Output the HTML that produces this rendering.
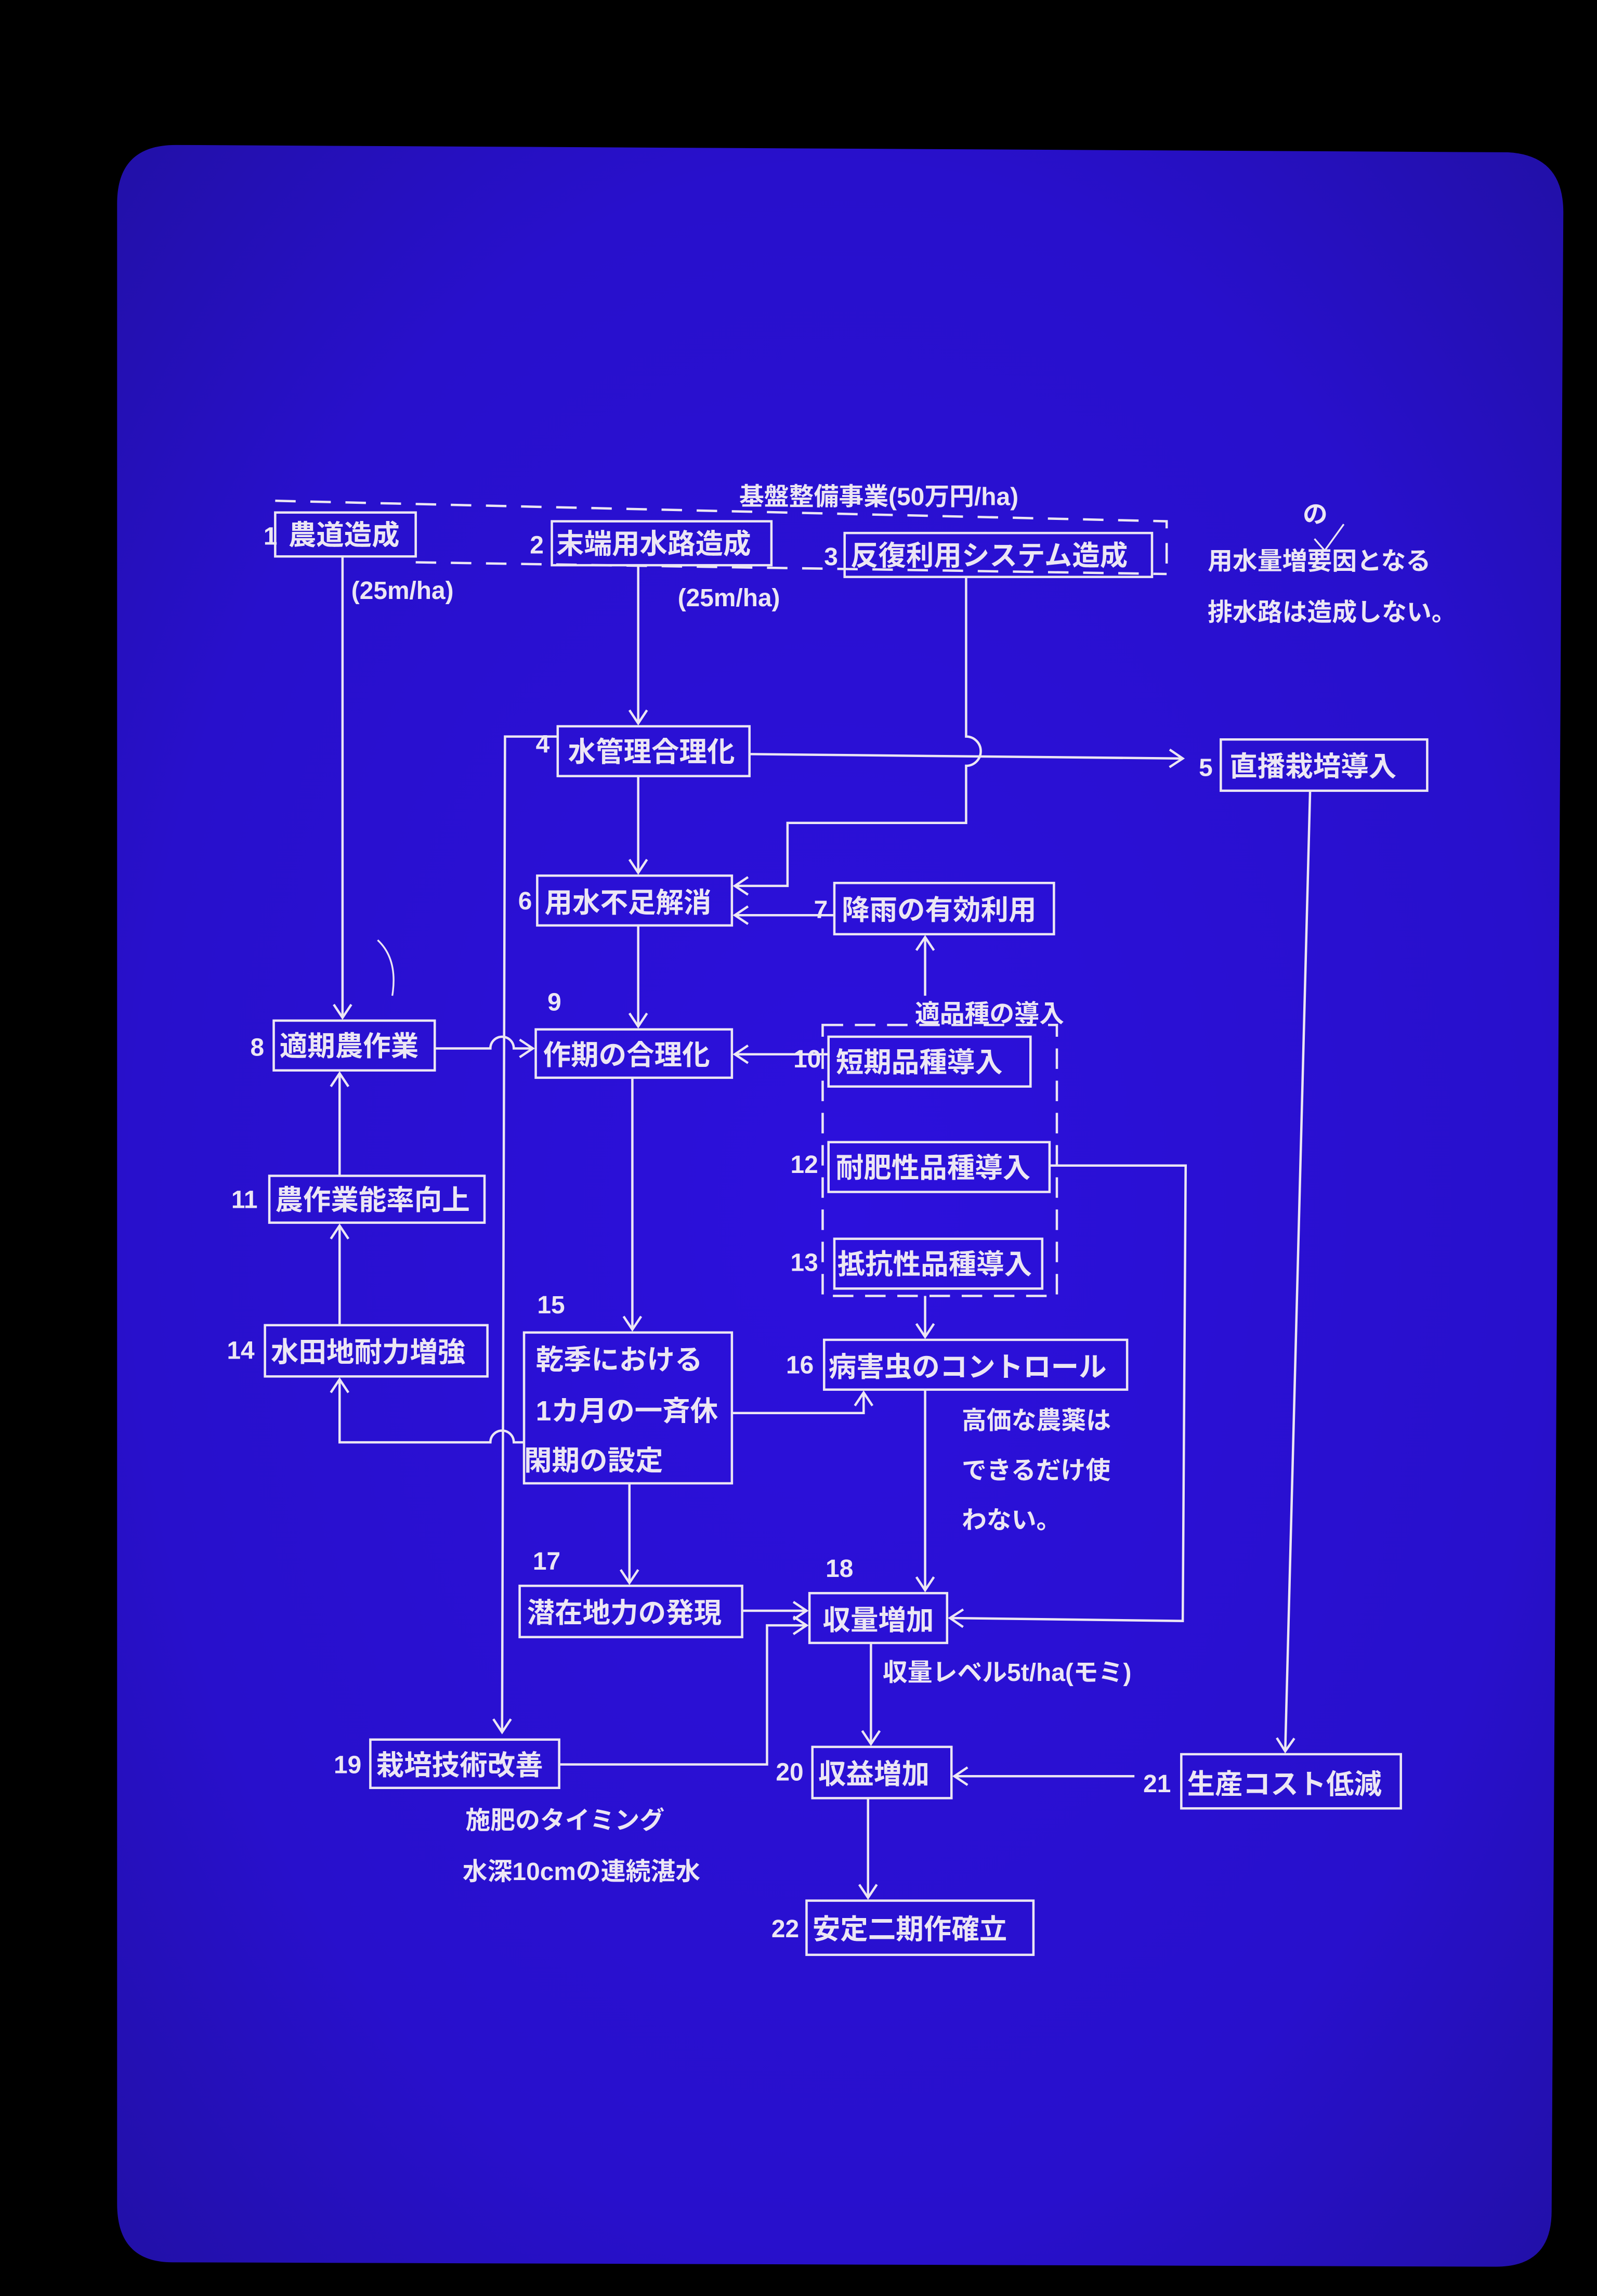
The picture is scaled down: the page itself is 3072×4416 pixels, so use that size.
<!DOCTYPE html>
<html><head><meta charset="utf-8">
<style>
html,body{margin:0;padding:0;background:#000;}
svg{display:block;}
text{font-family:"Liberation Sans","Noto Sans CJK JP",sans-serif;fill:#ece6f4;font-weight:bold;}
.n{font-weight:normal;font-size:17px;}
</style></head><body>
<svg width="3072" height="4416" viewBox="0 0 1091 1568" preserveAspectRatio="none" xmlns="http://www.w3.org/2000/svg">
<defs>
<radialGradient id="g" cx="0.5" cy="0.5" r="0.7">
<stop offset="0" stop-color="#2c10dc"/>
<stop offset="0.7" stop-color="#2810cc"/>
<stop offset="1" stop-color="#2210a8"/>
</radialGradient>
<marker id="a" markerWidth="16" markerHeight="16" refX="12" refY="8" orient="auto" markerUnits="userSpaceOnUse">
<path d="M3,2 L12,8 L3,14" fill="none" stroke="#ece6f4" stroke-width="1.6"/>
</marker>
</defs>
<rect width="1091" height="1568" fill="#000"/>
<path d="M120,99 L1030,104 Q1068,106 1068,145 L1060,1510 Q1060,1548 1022,1548 L118,1545 Q80,1545 80,1505 L80,139 Q80,99 120,99 Z" fill="url(#g)"/>
<g fill="none" stroke="#ece6f4" stroke-width="1.6">
<!-- dashed group -->
<path d="M188,342 L797,356 L797,386" stroke-dasharray="14,10"/>
<path d="M284,384 L797,392" stroke-dasharray="14,10"/>
<path d="M562,700 L722,700 L722,885 L562,885 Z" stroke-dasharray="14,8"/>
<!-- boxes -->
<rect x="188" y="350" width="96" height="30"/>
<rect x="377" y="356" width="150" height="30"/>
<rect x="577" y="364" width="210" height="30"/>
<rect x="381" y="496" width="131" height="34"/>
<rect x="834" y="505" width="141" height="35"/>
<rect x="367" y="598" width="133" height="34"/>
<rect x="570" y="603" width="150" height="35"/>
<rect x="187" y="697" width="110" height="34"/>
<rect x="366" y="703" width="134" height="33"/>
<rect x="566" y="708" width="138" height="34"/>
<rect x="566" y="780" width="151" height="34"/>
<rect x="570" y="846" width="142" height="34"/>
<rect x="184" y="803" width="147" height="32"/>
<rect x="181" y="905" width="152" height="35"/>
<rect x="358" y="910" width="142" height="103"/>
<rect x="563" y="915" width="207" height="34"/>
<rect x="355" y="1083" width="152" height="35"/>
<rect x="553" y="1088" width="94" height="34"/>
<rect x="253" y="1188" width="129" height="33"/>
<rect x="555" y="1193" width="95" height="35"/>
<rect x="807" y="1198" width="150" height="37"/>
<rect x="551" y="1298" width="155" height="37"/>
<!-- connectors -->
<path d="M234,380 L234,695" marker-end="url(#a)"/>
<path d="M436,386 L436,494" marker-end="url(#a)"/>
<path d="M660,394 L660,503 A10,10 0 0 1 660,523 L660,562 L538,562 L538,605 L502,605" marker-end="url(#a)"/>
<path d="M512,515 L808,518" marker-end="url(#a)"/>
<path d="M436,530 L436,596" marker-end="url(#a)"/>
<path d="M570,625 L502,625" marker-end="url(#a)"/>
<path d="M436,632 L436,701" marker-end="url(#a)"/>
<path d="M632,680 L632,640" marker-end="url(#a)"/>
<path d="M297,716 L335,716 A8,8 0 0 1 351,716 L364,716" marker-end="url(#a)"/>
<path d="M381,503 L345,503 L343,1183" marker-end="url(#a)"/>
<path d="M566,720 L502,720" marker-end="url(#a)"/>
<path d="M232,803 L232,733" marker-end="url(#a)"/>
<path d="M232,905 L232,837" marker-end="url(#a)"/>
<path d="M358,985 L351,985 A8,8 0 0 0 335,985 L232,985 L232,942" marker-end="url(#a)"/>
<path d="M500,965 L590,965 L590,951" marker-end="url(#a)"/>
<path d="M432,736 L432,908" marker-end="url(#a)"/>
<path d="M632,885 L632,913" marker-end="url(#a)"/>
<path d="M717,796 L810,796 L808,1107 L649,1105" marker-end="url(#a)"/>
<path d="M632,949 L632,1086" marker-end="url(#a)"/>
<path d="M430,1013 L430,1081" marker-end="url(#a)"/>
<path d="M507,1100 L551,1100" marker-end="url(#a)"/>
<path d="M382,1205 L524,1205 L524,1110 L551,1110" marker-end="url(#a)"/>
<path d="M595,1122 L595,1191" marker-end="url(#a)"/>
<path d="M775,1213 L652,1213" marker-end="url(#a)"/>
<path d="M895,540 L878,1196" marker-end="url(#a)"/>
<path d="M593,1228 L593,1296" marker-end="url(#a)"/>
<path d="M258,642 Q272,655 268,680" stroke-width="1.2"/>
<path d="M898,368 L905,376 L918,358" stroke-width="1.2"/>
</g>
<g font-size="19">
<text x="197" y="372">農道造成</text>
<text x="380" y="378">末端用水路造成</text>
<text x="581" y="386">反復利用システム造成</text>
<text x="388" y="520">水管理合理化</text>
<text x="840" y="530">直播栽培導入</text>
<text x="372" y="623">用水不足解消</text>
<text x="575" y="628">降雨の有効利用</text>
<text x="191" y="721">適期農作業</text>
<text x="371" y="727">作期の合理化</text>
<text x="571" y="732">短期品種導入</text>
<text x="571" y="804">耐肥性品種導入</text>
<text x="572" y="870">抵抗性品種導入</text>
<text x="188" y="826">農作業能率向上</text>
<text x="185" y="930">水田地耐力増強</text>
<text x="366" y="935">乾季における</text>
<text x="366" y="970">1カ月の一斉休</text>
<text x="358" y="1004">閑期の設定</text>
<text x="566" y="940">病害虫のコントロール</text>
<text x="360" y="1108">潜在地力の発現</text>
<text x="562" y="1113">収量増加</text>
<text x="257" y="1212">栽培技術改善</text>
<text x="559" y="1218">収益増加</text>
<text x="811" y="1225">生産コスト低減</text>
<text x="555" y="1324">安定二期作確立</text>
</g>
<g class="n">
<text x="505" y="345">基盤整備事業(50万円/ha)</text>
<text x="240" y="409">(25m/ha)</text>
<text x="463" y="414">(25m/ha)</text>
<text x="890" y="357">の</text>
<text x="825" y="389">用水量増要因となる</text>
<text x="825" y="424">排水路は造成しない。</text>
<text x="625" y="698">適品種の導入</text>
<text x="657" y="976">高価な農薬は</text>
<text x="657" y="1010">できるだけ使</text>
<text x="657" y="1044">わない。</text>
<text x="603" y="1148">収量レベル5t/ha(モミ)</text>
<text x="318" y="1249">施肥のタイミング</text>
<text x="316" y="1284">水深10cmの連続湛水</text>
<text x="180" y="372">1</text>
<text x="362" y="378">2</text>
<text x="563" y="386">3</text>
<text x="366" y="514">4</text>
<text x="819" y="530">5</text>
<text x="354" y="621">6</text>
<text x="556" y="627">7</text>
<text x="171" y="721">8</text>
<text x="374" y="690">9</text>
<text x="542" y="729">10</text>
<text x="540" y="801">12</text>
<text x="540" y="868">13</text>
<text x="158" y="825">11</text>
<text x="155" y="928">14</text>
<text x="367" y="897">15</text>
<text x="537" y="938">16</text>
<text x="364" y="1072">17</text>
<text x="564" y="1077">18</text>
<text x="228" y="1211">19</text>
<text x="530" y="1216">20</text>
<text x="781" y="1224">21</text>
<text x="527" y="1323">22</text>
</g>
</svg>
</body></html>
